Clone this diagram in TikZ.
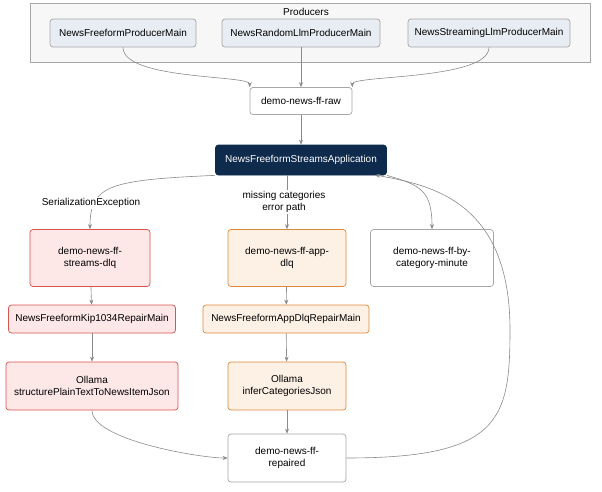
\documentclass[tikz,border=0pt]{standalone}
\usepackage{fontspec}
\setmainfont{Liberation Sans}
\usetikzlibrary{arrows.meta}
\definecolor{prodfill}{HTML}{E8EDF4}
\definecolor{navy}{HTML}{0E2A4C}
\definecolor{pinkfill}{HTML}{FDE7E7}
\definecolor{pinkline}{HTML}{D9534F}
\definecolor{orfill}{HTML}{FDF1E5}
\definecolor{orline}{HTML}{E0883A}
\definecolor{edge}{HTML}{8A8A8A}
\tikzset{
  x=1pt,y=-1pt,
  box/.style={draw=gray!70,rounded corners=3pt,font=\fontsize{10}{12}\selectfont,align=center,inner sep=0pt,line width=0.7pt},
  prod/.style={box,fill=prodfill,minimum height=28pt},
  plain/.style={box,fill=white},
  app/.style={box,fill=navy,draw=navy,text=white,minimum height=30pt,minimum width=171pt},
  pink/.style={box,fill=pinkfill,draw=pinkline},
  orng/.style={box,fill=orfill,draw=orline},
  conn/.style={draw=edge,line width=0.6pt,-{Stealth[length=5pt,width=4pt]}},
  lbl/.style={font=\fontsize{10}{12}\selectfont,align=center,fill=white,inner sep=1pt}
}
\begin{document}
\begin{tikzpicture}
\useasboundingbox (0,0) rectangle (602,491);
\draw[draw=gray!70,fill=gray!6] (30,3) rectangle (590,62);
\node[font=\fontsize{10}{12}\selectfont] (prodlbl) at (306,12) {Producers};
\node[prod,minimum width=146pt] (p1) at (123,33) {NewsFreeformProducerMain};
\node[prod,minimum width=158pt] (p2) at (301,33) {NewsRandomLlmProducerMain};
\node[prod,minimum width=162pt] (p3) at (489,33) {NewsStreamingLlmProducerMain};
\node[plain,minimum width=102pt,minimum height=27pt] (raw) at (301,101) {demo-news-ff-raw};
\node[app] (app) at (301,160) {NewsFreeformStreamsApplication};
\node[pink,minimum width=120pt,minimum height=57pt] (sdlq) at (90,258) {demo-news-ff-\\streams-dlq};
\node[orng,minimum width=118pt,minimum height=57pt] (adlq) at (287,258) {demo-news-ff-app-\\dlq};
\node[plain,minimum width=123pt,minimum height=57pt] (cat) at (432,258) {demo-news-ff-by-\\category-minute};
\node[pink,minimum width=167pt,minimum height=28pt] (kip) at (92,319) {NewsFreeformKip1034RepairMain};
\node[orng,minimum width=166pt,minimum height=28pt] (adr) at (286,319) {NewsFreeformAppDlqRepairMain};
\node[pink,minimum width=172pt,minimum height=48pt] (o1) at (92,386) {Ollama\\structurePlainTextToNewsItemJson};
\node[orng,minimum width=118pt,minimum height=48pt] (o2) at (287,386) {Ollama\\inferCategoriesJson};
\node[plain,minimum width=118pt,minimum height=48pt] (rep) at (287,458) {demo-news-ff-\\repaired};
\coordinate (appr) at (375,175);
\draw[conn] (p1.south) .. controls (123,80) and (250,75) .. (raw.north west);
\draw[conn] (p2.south) -- (raw.north -| p2.south);
\draw[conn] (p3.south) .. controls (489,80) and (352,75) .. (raw.north east);
\draw[conn] (raw) -- (app);
\draw[conn] (app.south west) .. controls (110,180) and (90,185) .. (sdlq.north);
\node[lbl] (l1) at (91,203) {SerializationException};
\draw[conn] (adlq.north |- app.south) -- (adlq.north);
\node[lbl] (l2) at (284,202) {missing categories\\error path};
\draw[conn] (app.south east) .. controls (420,185) and (432,190) .. (cat.north);
\draw[conn] (sdlq) -- (kip);
\draw[conn] (kip) -- (o1);
\draw[conn] (adlq) -- (adr);
\draw[conn] (adr) -- (o2);
\draw[conn] (o2) -- (rep);
\draw[conn] (o1.south) .. controls (92,440) and (200,458) .. (rep.west);
\draw[conn] (rep.east) .. controls (500,458) and (510,420) .. (510,330) .. controls (510,200) and (430,185) .. (appr);
\end{tikzpicture}
\end{document}
